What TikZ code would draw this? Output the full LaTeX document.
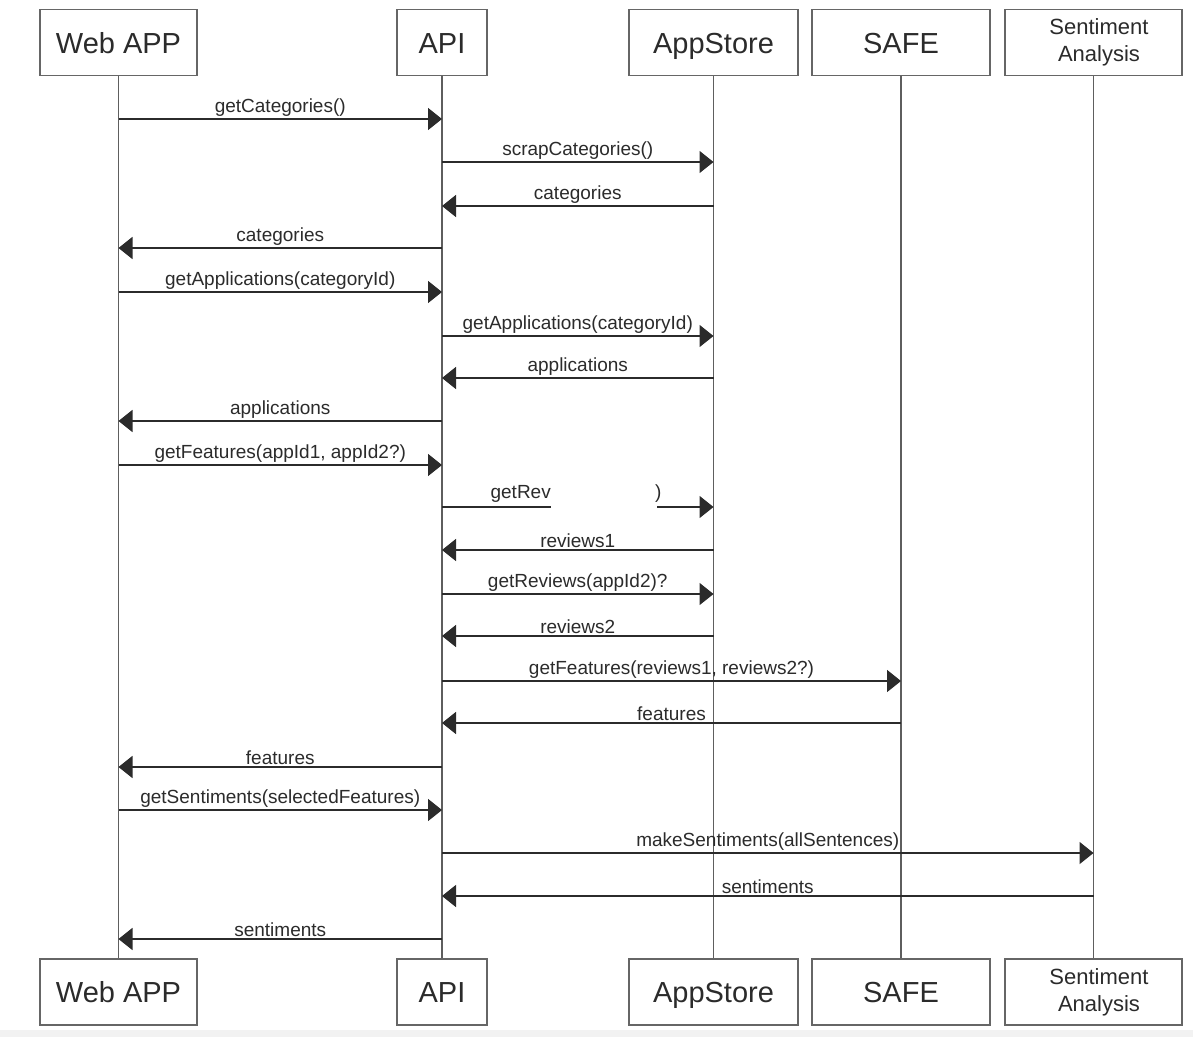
\documentclass[tikz,border=0pt]{standalone}
\usepackage{fontspec}
\setmainfont{Liberation Sans}
\usetikzlibrary{arrows.meta}
\definecolor{ink}{HTML}{2B2B2B}
\definecolor{frame}{HTML}{666666}
\definecolor{life}{HTML}{5E5E5E}
\tikzset{
  actor/.style={draw=frame, line width=1.6pt, fill=white, minimum height=66pt,
    inner sep=0pt, font=\fontsize{29}{31}\selectfont, text=ink, align=center,
    text height=21pt, text depth=0pt},
  actorsmall/.style={draw=frame, line width=1.6pt, fill=white, minimum height=66pt,
    inner sep=0pt},
  actortext/.style={font=\fontsize{22}{27}\selectfont, text=ink, align=center, inner sep=0pt},
  lifeline/.style={draw=life, line width=1.4pt},
  msgline/.style={draw=ink, line width=1.5pt, -{Triangle[length=14pt,width=22pt]}},
  plainline/.style={draw=ink, line width=1.5pt},
  lbl/.style={font=\fontsize{19}{21}\selectfont, text=ink, inner sep=0pt, above=2pt}
}
\newcommand{\msg}[4]{%
  \draw[msgline] (#1.south |- 0,#3) -- node[lbl]{#4} (#2.south |- 0,#3);}
\begin{document}
\begin{tikzpicture}[x=1pt,y=-1pt]
\useasboundingbox (0,0) rectangle (1193,1037);
\fill[white] (0,0) rectangle (1193,1037);
\fill[black!5] (0,1030) rectangle (1193,1037);

% participants, top row
\node[actor, minimum width=157pt] (webT) at (118.5,42.5) {Web APP};
\node[actor, minimum width=90pt]  (apiT) at (442,42.5) {API};
\node[actor, minimum width=169pt] (asT)  at (713.5,42.5) {AppStore};
\node[actor, minimum width=178pt] (safeT) at (901,42.5) {SAFE};
\node[actorsmall, minimum width=177pt] (saT) at (1093.5,42.5) {};
\node[actortext] (saTtext) at (1099,42) {Sentiment\\Analysis};

% participants, bottom row
\node[actor, minimum width=157pt] (webB) at (118.5,992) {Web APP};
\node[actor, minimum width=90pt]  (apiB) at (442,992) {API};
\node[actor, minimum width=169pt] (asB)  at (713.5,992) {AppStore};
\node[actor, minimum width=178pt] (safeB) at (901,992) {SAFE};
\node[actorsmall, minimum width=177pt] (saB) at (1093.5,992) {};
\node[actortext] (saBtext) at (1099,992) {Sentiment\\Analysis};

% lifelines
\draw[lifeline] (webT.south) -- (webB.north);
\draw[lifeline] (apiT.south) -- (apiB.north);
\draw[lifeline] (asT.south) -- (asB.north);
\draw[lifeline] (safeT.south) -- (safeB.north);
\draw[lifeline] (saT.south) -- (saB.north);

% messages
\msg{webT}{apiT}{119}{getCategories()}
\msg{apiT}{asT}{162}{scrapCategories()}
\msg{asT}{apiT}{206}{categories}
\msg{apiT}{webT}{248}{categories}
\msg{webT}{apiT}{292}{getApplications(categoryId)}
\msg{apiT}{asT}{336}{getApplications(categoryId)}
\msg{asT}{apiT}{378}{applications}
\msg{apiT}{webT}{421}{applications}
\msg{webT}{apiT}{465}{getFeatures(appId1, appId2?)}

% interrupted request to the store
\coordinate (gapL) at (551,507);
\coordinate (gapR) at (657,507);
\draw[plainline] (apiT.south |- 0,507) -- (gapL);
\node[lbl, anchor=south east] at (551,505) {getRev};
\node[lbl, anchor=south west] at (655,505) {)};
\draw[msgline] (gapR) -- (asT.south |- 0,507);

\msg{asT}{apiT}{550}{reviews1}
\msg{apiT}{asT}{594}{getReviews(appId2)?}
\msg{asT}{apiT}{636}{reviews2}
\msg{apiT}{safeT}{681}{getFeatures(reviews1, reviews2?)}
\msg{safeT}{apiT}{723}{features}
\msg{apiT}{webT}{767}{features}
\msg{webT}{apiT}{810}{getSentiments(selectedFeatures)}
\msg{apiT}{saT}{853}{makeSentiments(allSentences)}
\msg{saT}{apiT}{896}{sentiments}
\msg{apiT}{webT}{939}{sentiments}
\end{tikzpicture}
\end{document}
